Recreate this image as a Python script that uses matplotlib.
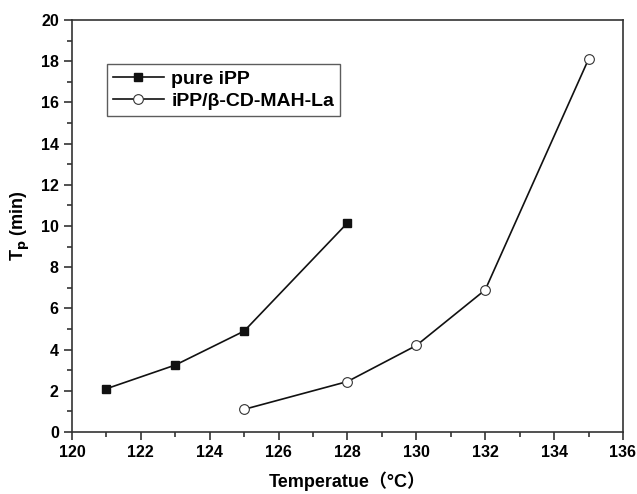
import matplotlib
matplotlib.use("Agg")
import matplotlib.pyplot as plt
from matplotlib.ticker import MultipleLocator

plt.rcParams['font.family'] = ['Liberation Sans', 'Noto Sans CJK SC', 'DejaVu Sans']
plt.rcParams['font.weight'] = 'bold'

pure_x = [121, 123, 125, 128]
pure_y = [2.1, 3.25, 4.9, 10.15]
comp_x = [125, 128, 130, 132, 135]
comp_y = [1.1, 2.45, 4.2, 6.9, 18.1]

fig = plt.figure(figsize=(6.37, 4.94), dpi=100)
ax = fig.add_axes([0.113, 0.1255, 0.865, 0.834])

ax.plot(pure_x, pure_y, color='#111111', lw=1.2, marker='s', ms=6,
        mfc='#111111', mec='#111111', label='pure iPP')
ax.plot(comp_x, comp_y, color='#111111', lw=1.2, marker='o', ms=7,
        mfc='white', mec='#333333', mew=0.8, label='iPP/β-CD-MAH-La')

ax.set_xlim(120, 136)
ax.set_ylim(0, 20)
ax.xaxis.set_major_locator(MultipleLocator(2))
ax.xaxis.set_minor_locator(MultipleLocator(1))
ax.yaxis.set_major_locator(MultipleLocator(2))
ax.yaxis.set_minor_locator(MultipleLocator(1))
ax.tick_params(which='major', direction='out', length=6, width=1.2, labelsize=11.5)
ax.tick_params(which='minor', direction='out', length=3.5, width=1.2)
for lab in ax.get_xticklabels() + ax.get_yticklabels():
    lab.set_fontweight('bold')
for s in ax.spines.values():
    s.set_linewidth(1.2)
    s.set_color('#333333')
ax.tick_params(colors='#333333', labelcolor='black', which='both')

ax.set_xlabel('Temperatue（°C）', fontsize=13, fontweight='bold', labelpad=8)
ax.set_ylabel('T$_\\mathbf{p}$ (min)', fontsize=13, fontweight='bold', labelpad=6)

leg = ax.legend(loc='upper left', bbox_to_anchor=(0.064, 0.893), fontsize=14,
                frameon=True, fancybox=False, edgecolor='#333333',
                borderpad=0.3, handlelength=2.6, handletextpad=0.4,
                labelspacing=0.25, borderaxespad=0)
leg.get_frame().set_linewidth(1.0)
for t in leg.get_texts():
    t.set_fontweight('bold')

fig.savefig('out.png', dpi=100)
